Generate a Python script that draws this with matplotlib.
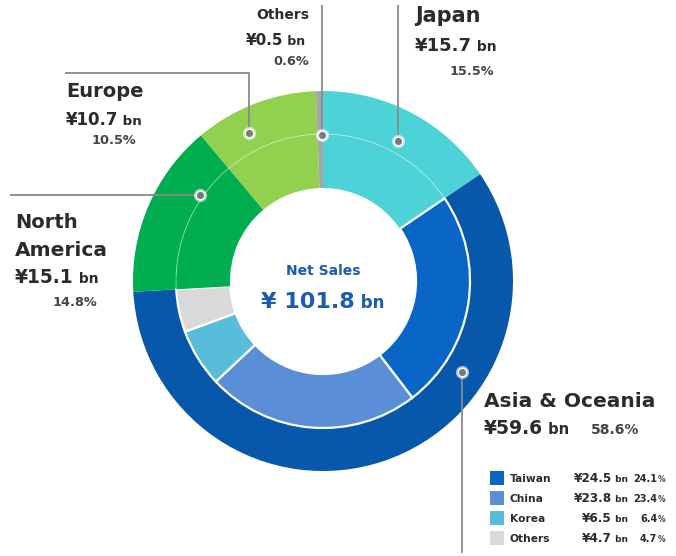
import matplotlib
matplotlib.use("Agg")
import matplotlib.pyplot as plt
from matplotlib.patches import Circle

plt.rcParams['font.family'] = ['DejaVu Sans']

# data
regions = ["Japan", "Asia & Oceania", "North America", "Europe", "Others"]
region_sales = [15.7, 59.6, 15.1, 10.7, 0.5]
region_share = [15.5, 58.6, 14.8, 10.5, 0.6]
region_colors = ["#4DD3D7", "#0758AB", "#00AE4F", "#92D050", "#A6A6A6"]

asia_parts = ["Taiwan", "China", "Korea", "Others"]
asia_sales = [24.5, 23.8, 6.5, 4.7]
asia_share = [24.1, 23.4, 6.4, 4.7]
asia_colors = ["#0A66C6", "#5A8FD7", "#57BDDA", "#D9D9D9"]

total_sales = 101.8

TXT = "#2b2b2b"
GRAY = "#444444"
BLUE = "#1A5DB0"
LINE = "#8a8a8a"

W, H = 676, 556
fig = plt.figure(figsize=(W / 100, H / 100), dpi=100)
ax = fig.add_axes([0, 0, 1, 1])

cx, cy = 323, H - 281
R_out, R_mid, R_in = 190, 147, 93

# outer ring: regions
ax.pie(region_share, radius=R_out, center=(cx, cy), startangle=90, counterclock=False,
       colors=region_colors, wedgeprops=dict(width=R_out - R_mid, linewidth=0))

# inner ring: regions with Asia split
inner_vals = [region_share[0]] + asia_share + region_share[2:]
inner_cols = [region_colors[0]] + asia_colors + region_colors[2:]
wedges, _ = ax.pie(inner_vals, radius=R_mid, center=(cx, cy), startangle=90, counterclock=False,
                   colors=inner_cols, wedgeprops=dict(width=R_mid - R_in, linewidth=0))
for w in wedges[1:1 + len(asia_parts)]:
    w.set_edgecolor("white")
    w.set_linewidth(1.6)
ax.add_patch(Circle((cx, cy), R_mid, fill=False, ec="white", lw=0.6, alpha=0.45))

ax.set_xlim(0, W)
ax.set_ylim(0, H)
ax.set_aspect("equal")
ax.axis("off")

renderer = fig.canvas.get_renderer()


def run(x, y, parts, ha="left"):
    """draw text pieces side by side on one baseline; y in pixels from top"""
    objs = []
    for s, size, color in parts:
        t = ax.text(0, H - y, s, fontsize=size, color=color, fontweight="bold", va="baseline", ha="left")
        objs.append(t)
    widths = [o.get_window_extent(renderer).width for o in objs]
    total = sum(widths)
    start = x if ha == "left" else (x - total if ha == "right" else x - total / 2)
    for o, w in zip(objs, widths):
        o.set_x(start)
        start += w


def callout(path):
    xs = [p[0] for p in path]
    ys = [H - p[1] for p in path]
    ax.plot(xs, ys, color=LINE, lw=1.3, solid_capstyle="butt", zorder=3)
    ax.scatter([xs[0]], [ys[0]], s=90, color="white", alpha=0.6, zorder=4, linewidths=0)
    ax.scatter([xs[0]], [ys[0]], s=38, color="#7a7a7a", zorder=5, edgecolors="white", linewidths=1.0)


# callouts
callout([(398, 141), (398, 5)])
callout([(322, 135), (322, 5)])
callout([(249, 133), (249, 73), (65, 73)])
callout([(200, 195), (10, 195)])
callout([(462, 372), (462, 553)])

# Japan
run(415, 22, [("Japan", 15, TXT)])
run(415, 51, [(f"¥{region_sales[0]}", 13, TXT), (" bn", 10, TXT)])
run(494, 75, [(f"{region_share[0]}%", 9.3, GRAY)], ha="right")

# Others
run(309, 19, [("Others", 10, TXT)], ha="right")
run(305, 45, [(f"¥{region_sales[4]}", 11, TXT), (" bn", 9, TXT)], ha="right")
run(309, 65, [(f"{region_share[4]}%", 9.3, GRAY)], ha="right")

# Europe
run(66, 97, [("Europe", 14, TXT)])
run(66, 125, [(f"¥{region_sales[3]}", 12, TXT), (" bn", 9.6, TXT)])
run(136, 144, [(f"{region_share[3]}%", 9.3, GRAY)], ha="right")

# North America
run(15, 228, [("North", 14, TXT)])
run(15, 256, [("America", 14.5, TXT)])
run(15, 283, [(f"¥{region_sales[2]}", 13.4, TXT), (" bn", 10, TXT)])
run(97, 306, [(f"{region_share[2]}%", 9.3, GRAY)], ha="right")

# Asia & Oceania
run(484, 407, [(regions[1], 14.5, TXT)])
run(484, 434, [(f"¥{region_sales[1]}", 13.5, TXT), (" bn", 10.5, TXT)])
run(639, 434, [(f"{region_share[1]}%", 10, GRAY)], ha="right")

# center
run(cx, 275, [("Net Sales", 10, BLUE)], ha="center")
run(cx, 308, [(f"¥ {total_sales}", 16, BLUE), (" bn", 12, BLUE)], ha="center")

# legend for Asia breakdown
row_y = [478, 498, 518, 538]
for name, val, pct, col, ry in zip(asia_parts, asia_sales, asia_share, asia_colors, row_y):
    ax.scatter([496.5], [H - ry], marker="s", s=110, color=col, linewidths=0)
    run(510, ry + 4.5, [(name, 7.7, TXT)])
    run(628, ry + 4.5, [(f"¥{val}", 8.7, TXT), (" bn", 6.5, TXT)], ha="right")
    run(665, ry + 4.5, [(f"{pct}", 7, TXT), ("%", 5.5, GRAY)], ha="right")

fig.savefig("out.png", dpi=100)
